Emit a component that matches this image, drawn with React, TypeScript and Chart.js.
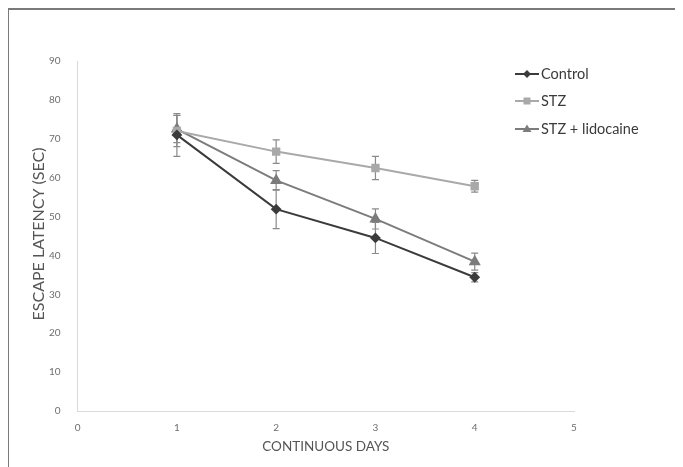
import React, { useEffect, useRef } from "react";
import { Chart, registerables } from "chart.js";

Chart.register(...registerables);

const days = [1, 2, 3, 4];
const controlMeans = [71, 51.9, 44.5, 34.4];
const controlErr = [5.5, 5, 4, 1.2];
const stzMeans = [72, 66.7, 62.5, 57.8];
const stzErr = [4, 3, 3, 1.5];
const lidoMeans = [72.5, 59.3, 49.4, 38.4];
const lidoErr = [3.5, 2.5, 2.6, 2.2];
const seriesNames = ["Control", "STZ", "STZ + lidocaine"];
const xTicks = [0, 1, 2, 3, 4, 5];
const xTitle = "CONTINUOUS DAYS";
const yTitle = "ESCAPE LATENCY (SEC)";

const FONT = "Lato, 'Open Sans', sans-serif";

const errorsBySeries = [controlErr, stzErr, lidoErr];

const errorBarPlugin = {
  id: "errorBars",
  beforeDatasetsDraw(chart: any) {
    const ctx = chart.ctx;
    const xs = chart.scales.x;
    const ys = chart.scales.y;
    ctx.save();
    chart.data.datasets.forEach((ds: any, i: number) => {
      const errs = errorsBySeries[i];
      ds.data.forEach((pt: any, j: number) => {
        const px = xs.getPixelForValue(pt.x);
        const top = ys.getPixelForValue(pt.y + errs[j]);
        const bot = ys.getPixelForValue(pt.y - errs[j]);
        ctx.strokeStyle = "#8a8a8a";
        ctx.lineWidth = 1.2;
        ctx.beginPath();
        ctx.moveTo(px, top);
        ctx.lineTo(px, bot);
        ctx.moveTo(px - 3.5, top);
        ctx.lineTo(px + 3.5, top);
        ctx.moveTo(px - 3.5, bot);
        ctx.lineTo(px + 3.5, bot);
        ctx.stroke();
      });
    });
    ctx.restore();
  },
};

const titlesPlugin = {
  id: "axisTitles",
  afterDraw(chart: any) {
    const ctx = chart.ctx;
    const area = chart.chartArea;
    ctx.save();
    ctx.fillStyle = "#555555";
    ctx.textAlign = "center";
    ctx.textBaseline = "middle";
    ctx.font = `13.5px ${FONT}`;
    ctx.fillText(xTitle, (area.left + area.right) / 2, area.bottom + 36);
    ctx.translate(area.left - 39, (area.top + area.bottom) / 2 - 2);
    ctx.rotate(-Math.PI / 2);
    ctx.font = `16px ${FONT}`;
    ctx.fillText(yTitle, 0, 0);
    ctx.restore();
  },
};

const legendPlugin = {
  id: "customLegend",
  afterDraw(chart: any) {
    const ctx = chart.ctx;
    const area = chart.chartArea;
    const x0 = area.right - 59;
    const ys = [area.top + 13, area.top + 40, area.top + 68];
    ctx.save();
    chart.data.datasets.forEach((ds: any, i: number) => {
      const y = ys[i];
      ctx.strokeStyle = ds.borderColor;
      ctx.lineWidth = 2;
      ctx.beginPath();
      ctx.moveTo(x0, y);
      ctx.lineTo(x0 + 24, y);
      ctx.stroke();
      ctx.fillStyle = ds.backgroundColor;
      const cx = x0 + 12;
      ctx.beginPath();
      if (ds.pointStyle === "rectRot") {
        ctx.moveTo(cx, y - 4);
        ctx.lineTo(cx + 4, y);
        ctx.lineTo(cx, y + 4);
        ctx.lineTo(cx - 4, y);
      } else if (ds.pointStyle === "rect") {
        ctx.rect(cx - 3.5, y - 3.5, 7, 7);
      } else {
        ctx.moveTo(cx, y - 4.5);
        ctx.lineTo(cx + 4.5, y + 3);
        ctx.lineTo(cx - 4.5, y + 3);
      }
      ctx.closePath();
      ctx.fill();
      ctx.fillStyle = "#3a3a3a";
      ctx.font = `14.5px ${FONT}`;
      ctx.textAlign = "left";
      ctx.textBaseline = "middle";
      ctx.fillText(seriesNames[i], x0 + 26, y);
    });
    ctx.restore();
  },
};

export default function App() {
  const canvasRef = useRef<HTMLCanvasElement | null>(null);

  useEffect(() => {
    if (!canvasRef.current) return;
    const mk = (arr: number[]) => days.map((d, i) => ({ x: d, y: arr[i] }));
    const chart = new Chart(canvasRef.current, {
      type: "line",
      data: {
        datasets: [
          {
            label: seriesNames[0],
            data: mk(controlMeans),
            borderColor: "#3b3b3b",
            backgroundColor: "#3b3b3b",
            pointStyle: "rectRot",
            pointRadius: 4,
            borderWidth: 2,
          },
          {
            label: seriesNames[1],
            data: mk(stzMeans),
            borderColor: "#a9a9a9",
            backgroundColor: "#a9a9a9",
            pointStyle: "rect",
            pointRadius: 4.5,
            borderWidth: 2,
          },
          {
            label: seriesNames[2],
            data: mk(lidoMeans),
            borderColor: "#7c7c7c",
            backgroundColor: "#7c7c7c",
            pointStyle: "triangle",
            pointRadius: 5,
            borderWidth: 2,
          },
        ] as any,
      },
      options: {
        animation: false,
        responsive: false,
        layout: { padding: { top: 51, right: 109, left: 23, bottom: 22 } },
        plugins: {
          legend: { display: false },
          tooltip: { enabled: false },
        },
        scales: {
          x: {
            type: "linear",
            min: 0,
            max: 5,
            afterBuildTicks: (axis: any) => {
              axis.ticks = xTicks.map((v) => ({ value: v }));
            },
            grid: { display: false, drawTicks: false },
            border: { display: true, color: "#d9d9d9", width: 1 },
            ticks: {
              color: "#6e6e6e",
              font: { size: 10, family: FONT },
              padding: 11,
            },
          },
          y: {
            min: 0,
            max: 90,
            ticks: {
              stepSize: 10,
              color: "#6e6e6e",
              font: { size: 10, family: FONT },
              padding: 17,
            },
            grid: { display: false, drawTicks: false },
            border: { display: true, color: "#d9d9d9", width: 1 },
          },
        },
      } as any,
      plugins: [errorBarPlugin, titlesPlugin, legendPlugin],
    });
    return () => chart.destroy();
  }, []);

  return (
    <div
      style={{
        marginLeft: -1,
        width: 676,
        height: 459,
        borderLeft: "2px solid #7a7a7a",
        borderTop: "2px solid #7a7a7a",
        boxSizing: "border-box",
        overflow: "hidden",
        background: "#fff",
      }}
    >
      <canvas ref={canvasRef} width={674} height={457} style={{ display: "block" }} />
    </div>
  );
}
